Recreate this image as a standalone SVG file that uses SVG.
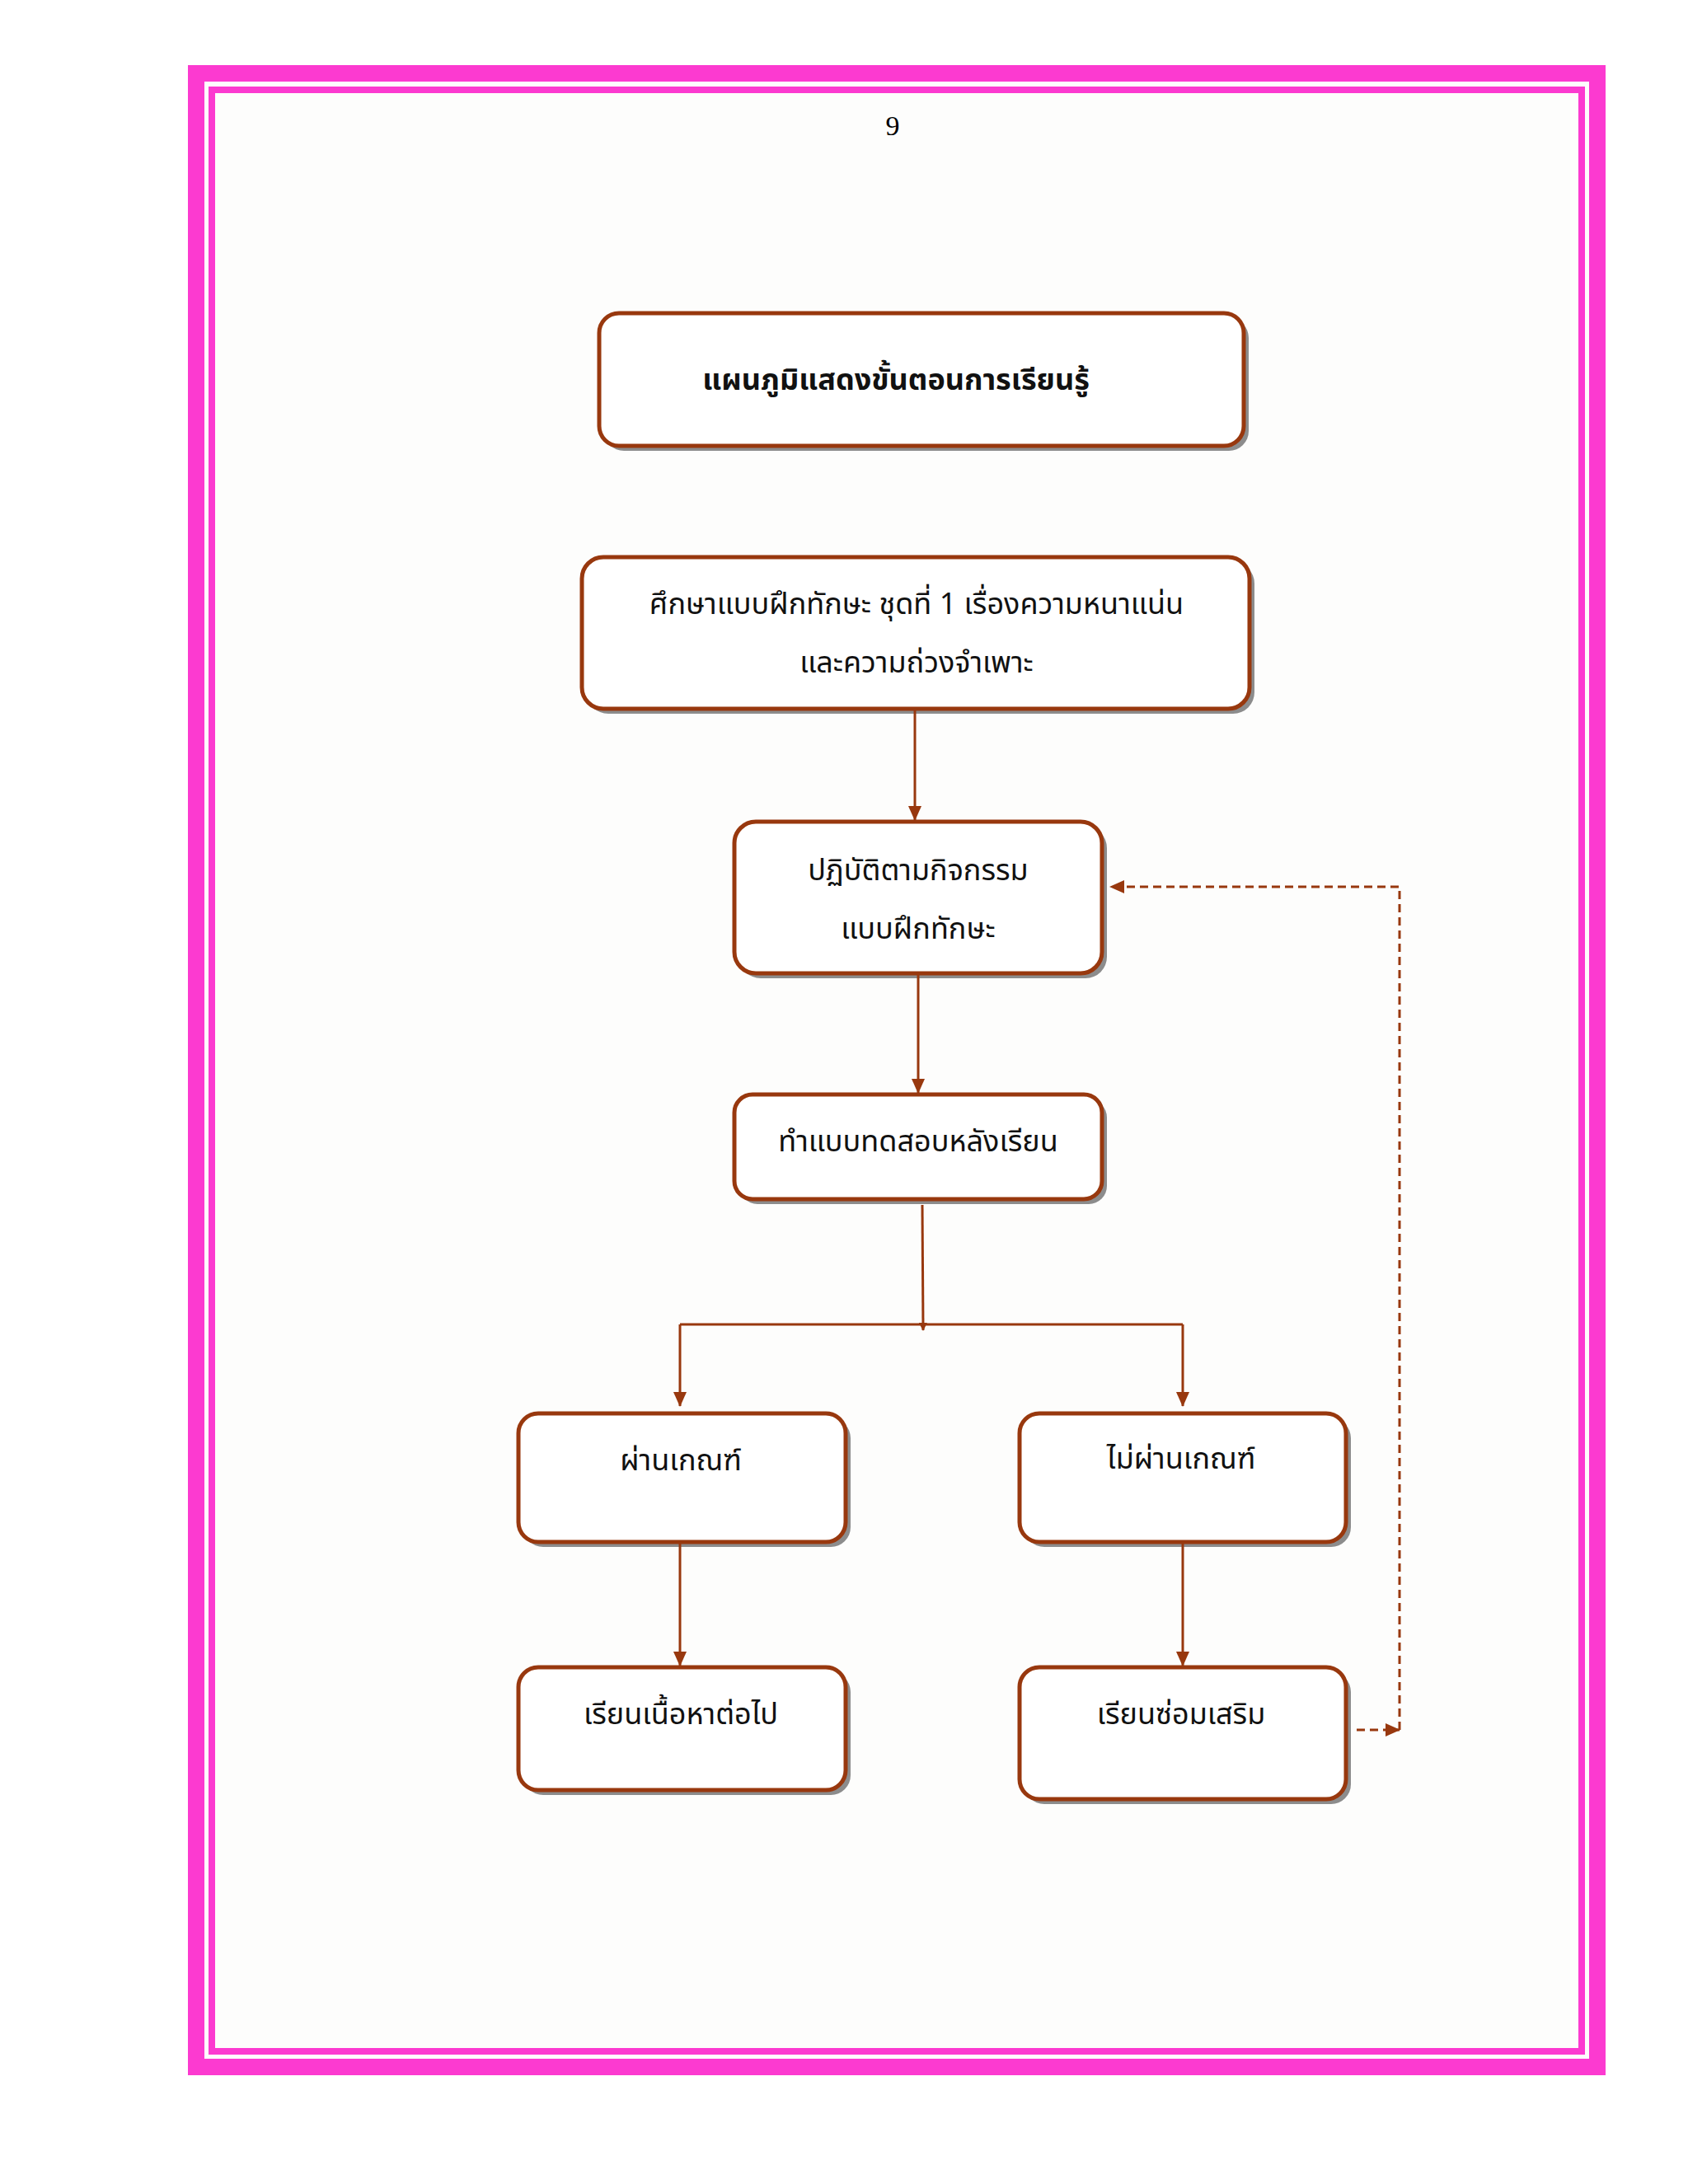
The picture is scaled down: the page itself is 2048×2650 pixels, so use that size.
<svg xmlns="http://www.w3.org/2000/svg" width="2048" height="2650" viewBox="0 0 2048 2650">
<style>
.b{fill:#fff;stroke:#98380e;stroke-width:5}
.s{fill:#8c8c8c}
.t{font-family:"Noto Sans Thai","Noto Sans","DejaVu Sans",sans-serif;font-size:36px;fill:#111;text-anchor:middle}
.c{stroke:#98380e;stroke-width:3;fill:none}
</style>
<defs>
<marker id="a" markerWidth="10" markerHeight="10" refX="9" refY="5" orient="auto" markerUnits="userSpaceOnUse"><path d="M0,0L10,5L0,10z" fill="#98380e"/></marker>
<marker id="a2" markerWidth="18" markerHeight="16" refX="17" refY="8" orient="auto" markerUnits="userSpaceOnUse"><path d="M0,0L18,8L0,16z" fill="#98380e"/></marker>
</defs>
<rect width="2048" height="2650" fill="#fff"/>
<rect x="238" y="89" width="1700" height="2419" fill="#fdfdfc" stroke="#fc3ad0" stroke-width="20"/>
<rect x="257" y="109" width="1662" height="2380" fill="none" stroke="#fc3ad0" stroke-width="8"/>
<text x="1083" y="164" style="font-family:'Liberation Serif',serif;font-size:34px" text-anchor="middle">9</text>

<g id="title"><rect class="s" x="733" y="386" width="782" height="161" rx="24"/><rect class="b" x="727" y="380" width="782" height="161" rx="24"/><text class="t" x="1087" y="473" font-weight="bold" font-size="38">แผนภูมิแสดงขั้นตอนการเรียนรู้</text></g>
<g id="n1"><rect class="s" x="712" y="682" width="810" height="184" rx="26"/><rect class="b" x="706" y="676" width="810" height="184" rx="26"/><text class="t" x="1112" y="745">ศึกษาแบบฝึกทักษะ ชุดที่ 1 เรื่องความหนาแน่น</text><text class="t" x="1112" y="816">และความถ่วงจำเพาะ</text></g>
<g id="n2"><rect class="s" x="897" y="1003" width="446" height="184" rx="26"/><rect class="b" x="891" y="997" width="446" height="184" rx="26"/><text class="t" x="1114" y="1068">ปฏิบัติตามกิจกรรม</text><text class="t" x="1114" y="1139">แบบฝึกทักษะ</text></g>
<g id="n3"><rect class="s" x="897" y="1334" width="446" height="127" rx="22"/><rect class="b" x="891" y="1328" width="446" height="127" rx="22"/><text class="t" x="1114" y="1397">ทำแบบทดสอบหลังเรียน</text></g>
<g id="n4"><rect class="s" x="635" y="1721" width="397" height="156" rx="24"/><rect class="b" x="629" y="1715" width="397" height="156" rx="24"/><text class="t" x="826" y="1784">ผ่านเกณฑ์</text></g>
<g id="n5"><rect class="s" x="1243" y="1721" width="396" height="156" rx="24"/><rect class="b" x="1237" y="1715" width="396" height="156" rx="24"/><text class="t" x="1433" y="1782">ไม่ผ่านเกณฑ์</text></g>
<g id="n6"><rect class="s" x="635" y="2029" width="397" height="149" rx="24"/><rect class="b" x="629" y="2023" width="397" height="149" rx="24"/><text class="t" x="826" y="2092">เรียนเนื้อหาต่อไป</text></g>
<g id="n7"><rect class="s" x="1243" y="2029" width="396" height="160" rx="24"/><rect class="b" x="1237" y="2023" width="396" height="160" rx="24"/><text class="t" x="1433" y="2092">เรียนซ่อมเสริม</text></g>

<g id="connectors">
<path class="c" d="M1110,860V995" marker-end="url(#a2)"/>
<path class="c" d="M1114,1181V1326" marker-end="url(#a2)"/>
<path class="c" d="M1119,1462L1120,1614" marker-end="url(#a)"/>
<path class="c" d="M825,1607H1435"/>
<path class="c" d="M825,1607V1706" marker-end="url(#a2)"/>
<path class="c" d="M1435,1607V1706" marker-end="url(#a2)"/>
<path class="c" d="M825,1871V2021" marker-end="url(#a2)"/>
<path class="c" d="M1435,1871V2021" marker-end="url(#a2)"/>
<path class="c" d="M1646,2099H1698" stroke-dasharray="10,6" marker-end="url(#a2)"/>
<path class="c" d="M1698,2099V1076H1347" stroke-dasharray="10,6" marker-end="url(#a2)"/>
</g>
</svg>
